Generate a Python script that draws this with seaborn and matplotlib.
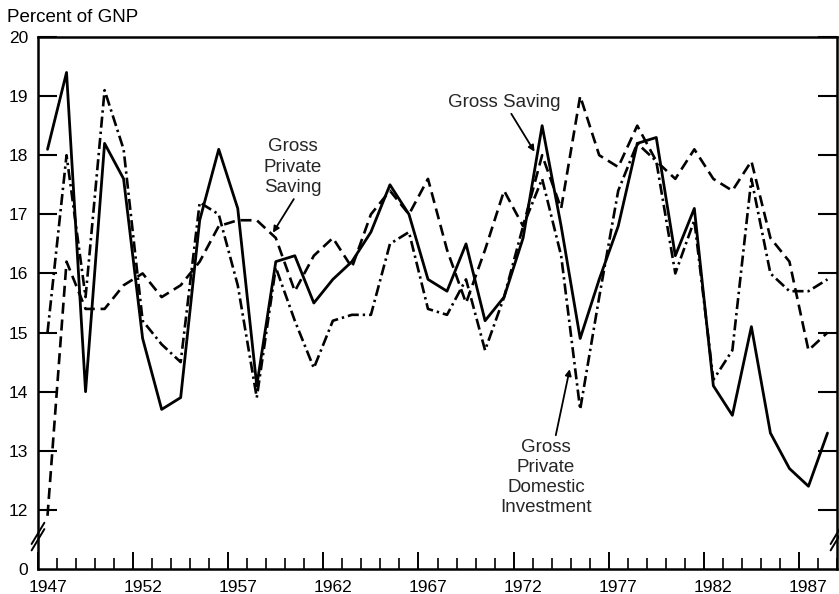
import numpy as np
import pandas as pd
import matplotlib
matplotlib.use("Agg")
import matplotlib.pyplot as plt
import matplotlib.transforms as mtransforms
from matplotlib.ticker import MultipleLocator, FixedLocator
import seaborn as sns

# ---- data (percent of GNP) ----
years = list(range(1947, 1989))
gross_saving = [18.1, 19.4, 14.0, 18.2, 17.6, 14.9, 13.7, 13.9, 16.9, 18.1,
                17.1, 14.1, 16.2, 16.3, 15.5, 15.9, 16.2, 16.7, 17.5, 17.0,
                15.9, 15.7, 16.5, 15.2, 15.6, 16.6, 18.5, 16.8, 14.9, 15.9,
                16.8, 18.2, 18.3, 16.3, 17.1, 14.1, 13.6, 15.1, 13.3, 12.7,
                12.4, 13.3]
private_saving = [11.9, 16.2, 15.4, 15.4, 15.8, 16.0, 15.6, 15.8, 16.2, 16.8,
                  16.9, 16.9, 16.6, 15.7, 16.3, 16.6, 16.1, 17.0, 17.4, 17.0,
                  17.6, 16.4, 15.5, 16.4, 17.4, 16.8, 18.0, 17.1, 19.0, 18.0,
                  17.8, 18.5, 17.9, 17.6, 18.1, 17.6, 17.4, 17.9, 16.6, 16.2,
                  14.7, 15.0]
investment = [15.0, 18.0, 15.6, 19.1, 18.1, 15.2, 14.8, 14.5, 17.2, 17.0,
              15.8, 13.9, 16.1, 15.2, 14.4, 15.2, 15.3, 15.3, 16.5, 16.7,
              15.4, 15.3, 15.9, 14.7, 15.6, 16.8, 17.6, 16.3, 13.7, 15.6,
              17.4, 18.2, 17.9, 16.0, 16.9, 14.2, 14.7, 17.6, 16.0, 15.7,
              15.7, 15.9]
x_tick_labels = [1947, 1952, 1957, 1962, 1967, 1972, 1977, 1982, 1987]
y_tick_values = [12, 13, 14, 15, 16, 17, 18, 19, 20]
y_axis_title = "Percent of GNP"

sns.set_theme(style="white")
plt.rcParams['font.family'] = ['Liberation Sans', 'DejaVu Sans']

df = pd.DataFrame({
    "year": years,
    "Gross Saving": gross_saving,
    "Gross Private Saving": private_saving,
    "Gross Private Domestic Investment": investment,
})
# annual values plotted at mid-year
df["pos"] = df["year"] + 0.5

W, H = 839, 594
fig = plt.figure(figsize=(W / 100, H / 100), dpi=100)
ax = fig.add_axes([38 / W, 1 - 569 / H, (837 - 38) / W, (569 - 37) / H])

sns.lineplot(data=df, x="pos", y="Gross Saving", ax=ax, color="black",
             lw=2.0, linestyle="-")
sns.lineplot(data=df, x="pos", y="Gross Private Saving", ax=ax, color="black",
             lw=1.9, linestyle=(0, (4.2, 2.2)))
sns.lineplot(data=df, x="pos", y="Gross Private Domestic Investment", ax=ax,
             color="black", lw=1.9, linestyle=(0, (4.2, 1.5, 0.9, 1.5)))

ax.set_xlim(1947, 1989)
ax.set_ylim(11, 20)
ax.set_xlabel("")
ax.set_ylabel("")

# y ticks: broken axis, bottom labeled 0
ax.yaxis.set_major_locator(FixedLocator([11] + y_tick_values))
ax.set_yticklabels(["0"] + [str(v) for v in y_tick_values])
ax.xaxis.set_major_locator(FixedLocator(x_tick_labels))
ax.set_xticklabels([str(v) for v in x_tick_labels])
ax.xaxis.set_minor_locator(MultipleLocator(1))

for s in ax.spines.values():
    s.set_visible(True)
    s.set_color("black")
    s.set_linewidth(1.8)

ax.tick_params(axis="y", which="major", direction="in", length=14, width=1.5,
               left=True, right=True, labelsize=12.5, pad=7, colors="black")
ax.tick_params(axis="y", which="major", labelright=False)
ax.tick_params(axis="x", which="major", direction="in", length=12, width=1.4,
               bottom=True, top=False, labelsize=12.5, pad=8, colors="black")
ax.tick_params(axis="x", which="minor", direction="in", length=8, width=1.4,
               bottom=True, top=False)
# hide the y tick at the broken-axis origin
ax.yaxis.get_major_ticks()[0].tick1line.set_visible(False)
ax.yaxis.get_major_ticks()[0].tick2line.set_visible(False)

# year labels are centred on the year interval (half a year right of the tick)
offset = mtransforms.ScaledTranslation(9.5 / 100, 0, fig.dpi_scale_trans)
for lab in ax.get_xticklabels():
    lab.set_transform(lab.get_transform() + offset)

# axis-break marks
for xa in (0.0, 1.0):
    for dy in (0.0, 0.012):
        ax.plot([xa - 0.008, xa + 0.008], [0.035 + dy, 0.075 + dy],
                transform=ax.transAxes, color="black", lw=1.4, clip_on=False)

fig.text(7 / W, 1 - 18 / H, y_axis_title, fontsize=13.5, ha="left", va="center",
         color="black")

arrow = dict(arrowstyle="-|>", color="black", lw=1.3, mutation_scale=9,
             shrinkA=0, shrinkB=0)
ax.annotate("Gross Saving", xy=(1973.1, 18.06), xytext=(1971.5, 18.9),
            ha="center", va="center", fontsize=13.5, arrowprops=arrow)
ax.annotate("Gross\nPrivate\nSaving", xy=(1959.35, 16.69), xytext=(1960.4, 17.8),
            ha="center", va="center", fontsize=13.5, linespacing=1.25,
            arrowprops=dict(arrow, relpos=(0.55, 0.0)))
ax.annotate("Gross\nPrivate\nDomestic\nInvestment", xy=(1974.95, 14.38),
            xytext=(1973.7, 12.55), ha="center", va="center", fontsize=13.5,
            linespacing=1.25, arrowprops=dict(arrow, relpos=(0.6, 1.0)))

fig.savefig("out.png", dpi=100)
